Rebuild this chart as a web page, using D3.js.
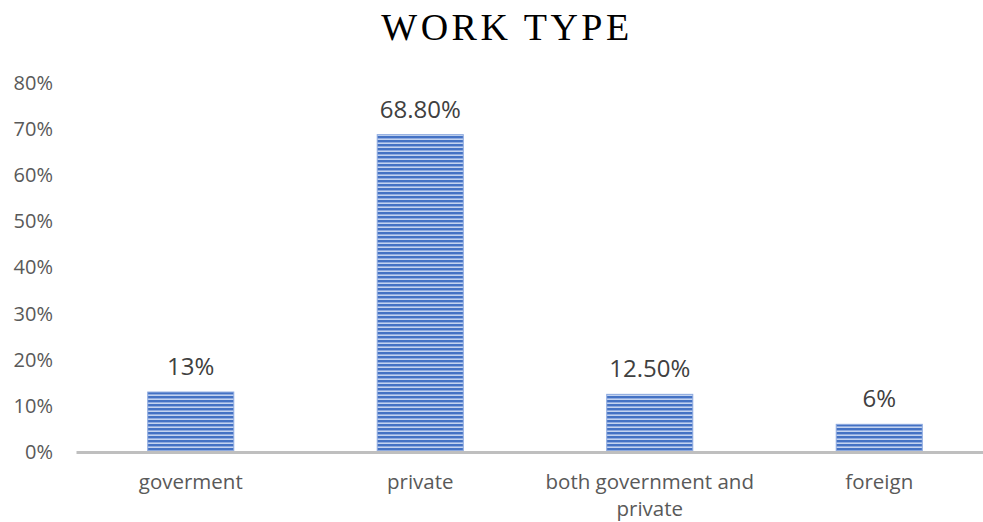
<!DOCTYPE html>
<html>
<head>
<meta charset="utf-8">
<script src="https://cdn.jsdelivr.net/npm/d3@7"></script>
<style>
  body { margin: 0; background: #fff; }
</style>
</head>
<body>
<div id="chart-area"></div>
<script>
// chart values
var categories = ["goverment", "private", "both government and private", "foreign"];
var values = [0.13, 0.688, 0.125, 0.06];
var valueLabels = ["13%", "68.80%", "12.50%", "6%"];
var tickValues = [0, 0.1, 0.2, 0.3, 0.4, 0.5, 0.6, 0.7, 0.8];

var W = 983, H = 522;
var font = "'Open Sans', sans-serif";

var svg = d3.select("#chart-area")
    .append("svg")
        .attr("width", W)
        .attr("height", H);

// striped fill for the bars
var defs = svg.append("defs");
var pat = defs.append("pattern")
    .attr("id", "stripes")
    .attr("patternUnits", "userSpaceOnUse")
    .attr("width", 8)
    .attr("height", 4);
pat.append("rect").attr("width", 8).attr("height", 4).attr("fill", "#4472c4");
pat.append("rect").attr("y", 2).attr("width", 8).attr("height", 1).attr("fill", "#8eaadf");
pat.append("rect").attr("y", 3).attr("width", 8).attr("height", 1).attr("fill", "#c3d3ef");

var x = d3.scaleBand()
    .domain(categories)
    .range([76, 994])
    .paddingInner(0.625)
    .paddingOuter(0.3125);

var y = d3.scaleLinear()
    .domain([0, 0.8])
    .range([452, 83]);

// title
svg.append("text")
    .attr("x", 507)
    .attr("y", 40)
    .attr("text-anchor", "middle")
    .attr("font-family", "'Liberation Serif', 'Times New Roman', serif")
    .attr("font-size", 38)
    .attr("letter-spacing", 3.5)
    .attr("fill", "#000")
    .text("WORK TYPE");

// y axis labels only
var yAxis = d3.axisLeft(y)
    .tickValues(tickValues)
    .tickSize(0)
    .tickPadding(0)
    .tickFormat(d3.format(".0%"));
var yg = svg.append("g")
    .attr("transform", "translate(53,0)")
    .call(yAxis);
yg.select(".domain").remove();
yg.selectAll("text")
    .attr("font-family", font)
    .attr("font-size", 20)
    .attr("fill", "#595959");

// bars
svg.selectAll("rect.bar")
    .data(values)
    .enter()
    .append("rect")
        .attr("class", "bar")
        .attr("x", (d, i) => x(categories[i]))
        .attr("y", d => y(d))
        .attr("width", x.bandwidth())
        .attr("height", d => y(0) - y(d))
        .attr("fill", "url(#stripes)")
        .attr("stroke", "#8eaadf")
        .attr("stroke-width", 1);

// baseline
var xAxis = d3.axisBottom(x).tickSize(0).tickFormat("");
var xg = svg.append("g")
    .attr("transform", "translate(0," + y(0) + ")")
    .call(xAxis);
xg.select(".domain")
    .attr("stroke", "#bfbfbf")
    .attr("stroke-width", 3);

// category labels, wrapped
var labelLines = [["goverment"], ["private"], ["both government and", "private"], ["foreign"]];
categories.forEach((c, i) => {
    var t = svg.append("text")
        .attr("text-anchor", "middle")
        .attr("font-family", font)
        .attr("font-size", 20.5)
        .attr("fill", "#595959");
    labelLines[i].forEach((line, j) => {
        t.append("tspan")
            .attr("x", x(c) + x.bandwidth() / 2)
            .attr("y", 489 + j * 27)
            .text(line);
    });
});

// value labels
svg.selectAll("text.val")
    .data(values)
    .enter()
    .append("text")
        .attr("class", "val")
        .attr("x", (d, i) => x(categories[i]) + x.bandwidth() / 2)
        .attr("y", d => y(d) - 17)
        .attr("text-anchor", "middle")
        .attr("font-family", font)
        .attr("font-size", 24)
        .attr("fill", "#404040")
        .text((d, i) => valueLabels[i]);
</script>
</body>
</html>
